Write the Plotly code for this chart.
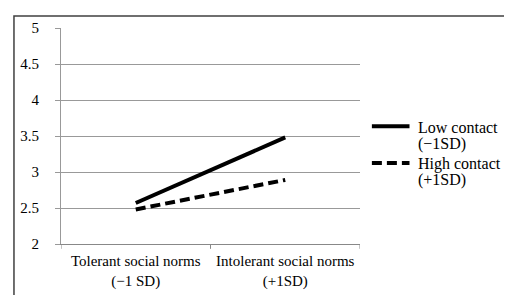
import plotly.graph_objects as go

categories = ["Tolerant social norms<br>(\u22121 SD)", "Intolerant social norms<br>(+1SD)"]
low_contact = [2.57, 3.48]
high_contact = [2.48, 2.89]
series_names = ["Low contact<br>(\u22121SD)", "High contact<br>(+1SD)"]
y_ticks = [2, 2.5, 3, 3.5, 4, 4.5, 5]
y_tick_labels = ["2", "2.5", "3", "3.5", "4", "4.5", "5"]

FONT = "Liberation Serif"
OFF = 8  # page body margin
W, H = 512, 295
L, T = 58 - OFF, 20 - OFF
R = W - (360 - OFF)
B = H - (244 - OFF)
pw, ph = W - L - R, H - T - B

def px_x(p):
    return (p - OFF - L) / pw

def px_y(p):
    return (H - B - (p - OFF)) / ph

line_styles = [dict(color="black", width=4), dict(color="black", width=4, dash="10px,5px")]

fig = go.Figure()
fig.add_trace(go.Scatter(x=[0, 1], y=low_contact, mode="lines", name=series_names[0],
                         line=line_styles[0]))
fig.add_trace(go.Scatter(x=[0, 1], y=high_contact, mode="lines", name=series_names[1],
                         line=line_styles[1]))

# outer frame
fig.add_shape(type="rect", xref="paper", yref="paper",
              x0=px_x(10.5), x1=px_x(509.5), y0=px_y(7.5), y1=px_y(330),
              line=dict(color="#404040", width=1.5), fillcolor="rgba(0,0,0,0)", layer="above")

# legend (symbol + two text lines per series)
legend_rows = [122, 160]
for name, style, yrow in zip(series_names, line_styles, legend_rows):
    fig.add_shape(type="line", xref="paper", yref="paper",
                  x0=px_x(372), x1=px_x(410), y0=px_y(yrow), y1=px_y(yrow), line=style)
    for i, part in enumerate(name.split("<br>")):
        fig.add_annotation(xref="paper", yref="paper", x=px_x(417), y=px_y(yrow + 1 + 17 * i),
                           text=part, showarrow=False, xanchor="left", yanchor="middle",
                           font=dict(family=FONT, size=16, color="black"))

fig.update_layout(
    width=W, height=H,
    margin=dict(l=L, r=R, t=T, b=B, pad=0),
    paper_bgcolor="white", plot_bgcolor="white",
    font=dict(family=FONT, size=15, color="black"),
    showlegend=False,
    xaxis=dict(type="linear", range=[-0.5, 1.5], tickvals=[0, 1], ticktext=categories,
               showgrid=False, zeroline=False, showline=True, linecolor="#888888", linewidth=1,
               ticks="", ticklabelstandoff=3, tickfont=dict(family=FONT, size=15, color="black")),
    yaxis=dict(range=[2, 5], tickvals=y_ticks, ticktext=y_tick_labels,
               showgrid=True, gridcolor="#999999", gridwidth=1, zeroline=False,
               showline=True, linecolor="#999999", linewidth=1,
               ticks="outside", ticklen=5, tickcolor="#999999", ticklabelstandoff=13,
               tickfont=dict(family=FONT, size=15, color="black")),
)
for xb in [-0.5, 0.5, 1.5]:
    fig.add_shape(type="line", xref="x", yref="paper", x0=xb, x1=xb, y0=0, y1=-5 / ph,
                  line=dict(color="#888888", width=1))

fig.write_html("out.html")
